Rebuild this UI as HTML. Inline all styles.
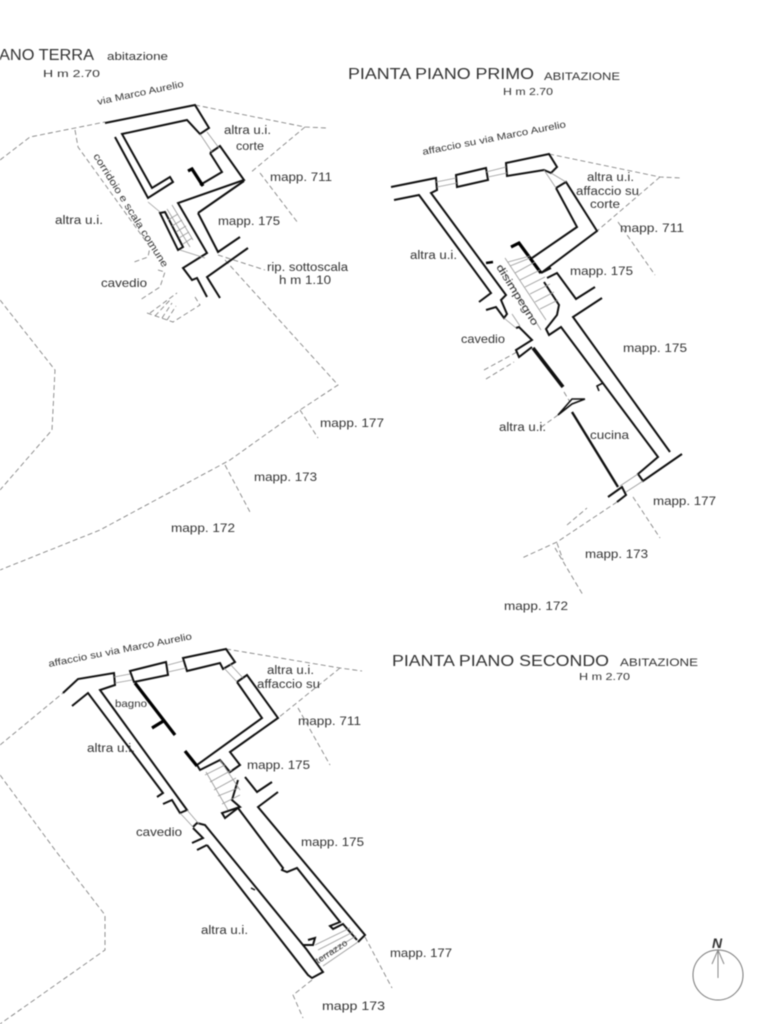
<!DOCTYPE html>
<html><head><meta charset="utf-8"><style>
html,body{margin:0;padding:0;background:#fff;width:768px;height:1024px;overflow:hidden}
svg{display:block;filter:blur(.55px)}
text{font-family:"Liberation Sans",sans-serif;font-size:12px;fill:#333}
.w{fill:none;stroke:#111;stroke-width:2;stroke-linejoin:miter}
.t{fill:none;stroke:#000;stroke-width:3.2}
.h{fill:none;stroke:#999;stroke-width:.8}
.d{fill:none;stroke:#777;stroke-width:.8;stroke-dasharray:5 3}
</style></head><body>
<svg width="768" height="1024" viewBox="0 0 768 1024" xmlns="http://www.w3.org/2000/svg">
<rect width="768" height="1024" fill="#fff"/>
<!-- titles -->
<text lengthAdjust="spacingAndGlyphs" x="-1" y="60" style="font-size:16px" textLength="95">ANO TERRA</text>
<text lengthAdjust="spacingAndGlyphs" x="107" y="60" style="font-size:11px" textLength="61">abitazione</text>
<text lengthAdjust="spacingAndGlyphs" x="43" y="77" style="font-size:10.5px" textLength="57">H  m 2.70</text>
<text lengthAdjust="spacingAndGlyphs" x="348" y="79" style="font-size:16px" textLength="186">PIANTA PIANO PRIMO</text>
<text lengthAdjust="spacingAndGlyphs" x="544" y="80" style="font-size:11px" textLength="76">ABITAZIONE</text>
<text lengthAdjust="spacingAndGlyphs" x="503" y="95" style="font-size:10px" textLength="50">H  m 2.70</text>
<text lengthAdjust="spacingAndGlyphs" x="392" y="666" style="font-size:16px" textLength="217">PIANTA PIANO SECONDO</text>
<text lengthAdjust="spacingAndGlyphs" x="620" y="666" style="font-size:11px" textLength="78">ABITAZIONE</text>
<text lengthAdjust="spacingAndGlyphs" x="579" y="680" style="font-size:10px" textLength="51">H m 2.70</text>

<!-- PLAN 1 dashed -->
<g class="d">
<path d="M0 160 L30 137 L105 122"/>
<path d="M195 105 L305 127 L327 128"/>
<path d="M305 127 L250 173"/>
<path d="M260 173 L298 223"/>
<path d="M75 130 L78 147 L150 247 L148 257 L134 262"/>
<path d="M158 270 L165 272 L160 287 L140 300"/>
<path d="M0 300 L55 370 L52 430 L0 490"/>
<path d="M225 260 L338 385 L300 410 L230 460 L100 530 L0 570"/>
<path d="M300 410 L318 438"/>
<path d="M225 465 L250 512"/>
<path d="M147 313 L173 322 L200 305 L195 297"/>
<path d="M150 313 L177 293 M155 316 L170 300 M162 318 L172 303 M167 320 L176 306"/>
<path d="M218 255 L265 270"/>
</g>
<!-- PLAN 1 walls -->
<g class="w">
<path d="M105 123 L195 105 L209 128 L200 134 L187 120 L122 134 L152 188 L170 177 L173 182 L148 198 L115 137"/>
<path d="M210 153 L220 146 L244 180 L178 203 L207 253 L183 268 L192 280 L197 278 L207 297"/>
<path d="M210 153 L222 172 L200 185"/>
<path d="M198 213 L218 252 L240 237"/>
<path d="M198 213 L244 181"/>
<path d="M248 248 L207 277 L220 298"/>
<path d="M160 213 L165 212 L183 247 L178 250 Z"/>
</g>
<path class="t" d="M188 171 L192 169 L203 186"/>
<g class="h">
<path d="M200 134 L212 152 M207 132 L219 148"/>
<path d="M167 209 L190 247 M172 205 L193 240 M168 220 L178 214 M172 226 L182 220 M176 232 L186 226 M179 238 L189 232 M183 244 L192 238"/>
<path d="M148 202 L160 212 M180 250 L205 258"/>
</g>

<!-- PLAN 2 dashed -->
<g class="d">
<path d="M549 154 L660 177 L682 178"/>
<path d="M660 177 L597 231"/>
<path d="M618 222 L655 275"/>
<path d="M484 370 L517 352 M486 379 L514 362"/>
<path d="M564 392 L570 402 M558 415 L540 428"/>
<path d="M617 502 L557 542 L522 558 M557 543 L563 560"/>
<path d="M567 525 L587 508"/>
<path d="M633 497 L660 538"/>
<path d="M555 548 L583 595"/>
</g>
<!-- PLAN 2 walls -->
<g class="w">
<path d="M391 187 L436 178 L437 190 L431 193 L506 295 L501 300 L507 314 L504 318 L496 307 L486 310"/>
<path d="M394 200 L419 195 L491 293 L479 302"/>
<path d="M456 175 L486 168 L488 180 L457 187 Z"/>
<path d="M506 163 L549 154 L557 167 L551 173 L544 170 L507 176 Z"/>
<path d="M556 188 L566 182 L597 231 L541 273 L551 268"/>
<path d="M556 188 L577 227 L532 258"/>
<path d="M547 278 L557 273 L576 299 L595 287"/>
<path d="M602 298 L573 317 L670 452"/>
<path d="M544 282 L559 305 L557 315 L546 329 L549 335 L561 327 L658 457 L638 474 L643 481 L682 454"/>
<path d="M603 383 L597 386 L599 391" style="stroke-width:1.6"/>
<path d="M516 328 L519 327 L532 340 L516 350 L519 357 L532 347"/>
<path d="M533 348 L563 387" style="stroke-width:3.6"/>
<path d="M585 399 L572 399 L558 415 L572 404 L585 399" style="stroke-width:1.6"/>
<path d="M572 412 L618 487" style="stroke-width:2.4"/>
<path d="M608 497 L622 487 L626 495 L617 502"/>
</g>
<path class="t" d="M511 247 L519 243 L541 273"/>
<path class="t" d="M486 263 L493 262" style="stroke-width:2.4"/>
<g class="h">
<path d="M436 182 L456 178 M437 187 L457 183"/>
<path d="M486 172 L506 167 M488 177 L507 173"/>
<path d="M544 170 L556 188 M551 173 L566 182"/>
<path d="M508 262 L530 256 M500 265 L541 330 M505 258 L546 320"/>
<path d="M510 266 L530 258 M515 273 L535 262 M520 280 L540 270 M525 287 L545 277 M530 294 L550 284 M535 302 L554 292 M540 309 L558 300"/>
<path d="M504 318 L516 328 M512 314 L520 326"/>
<path d="M638 474 L620 486 M643 481 L626 492"/>
</g>

<!-- PLAN 3 dashed -->
<g class="d">
<path d="M0 745 L63 693"/>
<path d="M226 649 L340 668 L362 671"/>
<path d="M340 668 L278 718"/>
<path d="M298 708 L330 765"/>
<path d="M0 775 L55 850 L105 915 L105 950 L0 1024"/>
<path d="M365 937 L392 988"/>
<path d="M312 980 L293 995 L303 1018"/>
</g>
<!-- PLAN 3 walls -->
<g class="w">
<path d="M63 693 L78 679 L114 673 L115 685 L100 690 L187 810 L180 813 L172 800 L163 804"/>
<path d="M72 706 L88 693 L163 793 L157 797"/>
<path d="M130 671 L166 662 L168 675 L134 682 Z"/>
<path d="M183 658 L226 649 L235 662 L223 669 L220 663 L187 671 Z"/>
<path d="M237 682 L247 675 L278 718 L230 752 L240 765 L230 772 L220 760 L200 770 L197 765 L262 718 L237 682"/>
<path d="M245 777 L257 792 L272 782"/>
<path d="M278 792 L258 807 L365 935 L358 942"/>
<path d="M238 780 L232 800 L240 807 L222 813 L225 818 L238 808 L283 868 L282 870 L287 872 L297 868 L340 922 L330 926 L333 929 L343 924 L357 940"/>
<path d="M193 827 L197 823 L205 825 L303 945 L313 945 L315 938 L308 940"/>
<path d="M192 843 L203 838 L193 828"/>
<path d="M207 845 L197 850"/>
<path d="M207 845 L308 975 L312 978 L323 972 L307 950 L303 945"/>
<path d="M251 888 L255 890" style="stroke-width:1.5"/>
</g>
<path class="t" d="M135 683 L175 735 M152 728 L165 720"/>
<path class="t" d="M185 751 L197 766"/>
<g class="h">
<path d="M114 677 L130 674 M115 683 L132 680"/>
<path d="M168 665 L183 661 M168 672 L186 668"/>
<path d="M224 668 L237 682 M230 664 L243 678"/>
<path d="M180 813 L193 827 M187 810 L199 824"/>
<path d="M206 772 L228 810 M220 760 L240 790 M205 775 L225 765 M210 782 L232 770 M214 790 L236 778 M218 796 L238 788 M222 804 L240 795"/>
<path d="M315 945 L350 928 M318 950 L353 932 M320 958 L356 936 M323 966 L358 942"/>
</g>

<!-- labels plan 1 -->
<text lengthAdjust="spacingAndGlyphs" transform="translate(98,105) rotate(-12)" style="font-size:9.5px" textLength="88">via Marco Aurelio</text>
<text lengthAdjust="spacingAndGlyphs" x="224" y="134" style="font-size:11.5px" textLength="47">altra u.i.</text>
<text lengthAdjust="spacingAndGlyphs" x="236" y="150" style="font-size:11.5px" textLength="28">corte</text>
<text lengthAdjust="spacingAndGlyphs" x="270" y="181" style="font-size:12px" textLength="62">mapp. 711</text>
<text lengthAdjust="spacingAndGlyphs" x="218" y="225" style="font-size:12px" textLength="62">mapp. 175</text>
<text lengthAdjust="spacingAndGlyphs" x="55" y="224" style="font-size:11.5px" textLength="48">altra u.i.</text>
<text lengthAdjust="spacingAndGlyphs" transform="translate(93,156) rotate(58)" style="font-size:10px" textLength="132">corridoio e scala comune</text>
<text lengthAdjust="spacingAndGlyphs" x="101" y="287" style="font-size:12px" textLength="46">cavedio</text>
<text lengthAdjust="spacingAndGlyphs" x="267" y="271" style="font-size:11.5px" textLength="81">rip. sottoscala</text>
<text lengthAdjust="spacingAndGlyphs" x="279" y="284" style="font-size:11.5px" textLength="52">h m 1.10</text>
<text lengthAdjust="spacingAndGlyphs" x="320" y="427" style="font-size:12px" textLength="64">mapp. 177</text>
<text lengthAdjust="spacingAndGlyphs" x="254" y="481" style="font-size:12px" textLength="63">mapp. 173</text>
<text lengthAdjust="spacingAndGlyphs" x="171" y="532" style="font-size:12px" textLength="64">mapp. 172</text>

<!-- labels plan 2 -->
<text lengthAdjust="spacingAndGlyphs" transform="translate(423,155) rotate(-11)" style="font-size:9.5px" textLength="146">affaccio su via Marco Aurelio</text>
<text lengthAdjust="spacingAndGlyphs" x="587" y="181" style="font-size:11.5px" textLength="47">altra u.i.</text>
<text lengthAdjust="spacingAndGlyphs" x="576" y="195" style="font-size:11.5px" textLength="63">affaccio su</text>
<text lengthAdjust="spacingAndGlyphs" x="590" y="208" style="font-size:11.5px" textLength="30">corte</text>
<text lengthAdjust="spacingAndGlyphs" x="620" y="232" style="font-size:12px" textLength="64">mapp. 711</text>
<text lengthAdjust="spacingAndGlyphs" x="570" y="275" style="font-size:12px" textLength="63">mapp. 175</text>
<text lengthAdjust="spacingAndGlyphs" x="410" y="259" style="font-size:11.5px" textLength="47">altra u.i.</text>
<text lengthAdjust="spacingAndGlyphs" transform="translate(496,267) rotate(58)" style="font-size:10.5px" textLength="70">disimpegno</text>
<text lengthAdjust="spacingAndGlyphs" x="461" y="343" style="font-size:12px" textLength="44">cavedio</text>
<text lengthAdjust="spacingAndGlyphs" x="623" y="352" style="font-size:12px" textLength="64">mapp. 175</text>
<text lengthAdjust="spacingAndGlyphs" x="499" y="431" style="font-size:11.5px" textLength="47">altra u.i.</text>
<text lengthAdjust="spacingAndGlyphs" x="590" y="439" style="font-size:12px" textLength="39">cucina</text>
<text lengthAdjust="spacingAndGlyphs" x="653" y="505" style="font-size:12px" textLength="63">mapp. 177</text>
<text lengthAdjust="spacingAndGlyphs" x="585" y="558" style="font-size:12px" textLength="63">mapp. 173</text>
<text lengthAdjust="spacingAndGlyphs" x="504" y="610" style="font-size:12px" textLength="64">mapp. 172</text>

<!-- labels plan 3 -->
<text lengthAdjust="spacingAndGlyphs" transform="translate(49,667) rotate(-11)" style="font-size:9.5px" textLength="146">affaccio su via Marco Aurelio</text>
<text lengthAdjust="spacingAndGlyphs" x="267" y="674" style="font-size:11.5px" textLength="47">altra u.i.</text>
<text lengthAdjust="spacingAndGlyphs" x="257" y="688" style="font-size:11.5px" textLength="63">affaccio su</text>
<text lengthAdjust="spacingAndGlyphs" x="115" y="707" style="font-size:10.5px" textLength="32">bagno</text>
<text lengthAdjust="spacingAndGlyphs" x="298" y="725" style="font-size:12px" textLength="63">mapp. 711</text>
<text lengthAdjust="spacingAndGlyphs" x="87" y="752" style="font-size:11.5px" textLength="48">altra u.i.</text>
<text lengthAdjust="spacingAndGlyphs" x="247" y="769" style="font-size:12px" textLength="63">mapp. 175</text>
<text lengthAdjust="spacingAndGlyphs" x="136" y="836" style="font-size:12px" textLength="46">cavedio</text>
<text lengthAdjust="spacingAndGlyphs" x="301" y="846" style="font-size:12px" textLength="63">mapp. 175</text>
<text lengthAdjust="spacingAndGlyphs" x="201" y="934" style="font-size:11.5px" textLength="47">altra u.i.</text>
<text lengthAdjust="spacingAndGlyphs" transform="translate(318,964) rotate(-33)" style="font-size:9px" textLength="36">terrazzo</text>
<text lengthAdjust="spacingAndGlyphs" x="390" y="957" style="font-size:12px" textLength="62">mapp. 177</text>
<text lengthAdjust="spacingAndGlyphs" x="322" y="1010" style="font-size:12px" textLength="63">mapp 173</text>

<!-- north -->
<circle cx="718" cy="975" r="25" fill="none" stroke="#777" stroke-width="1"/>
<path d="M718 978 L718 950 M712 964 L718 950 L724 964" fill="none" stroke="#888" stroke-width="1"/>
<text x="712" y="948" style="font-size:14px;font-style:italic;font-weight:bold;fill:#333">N</text>
</svg>
</body></html>
